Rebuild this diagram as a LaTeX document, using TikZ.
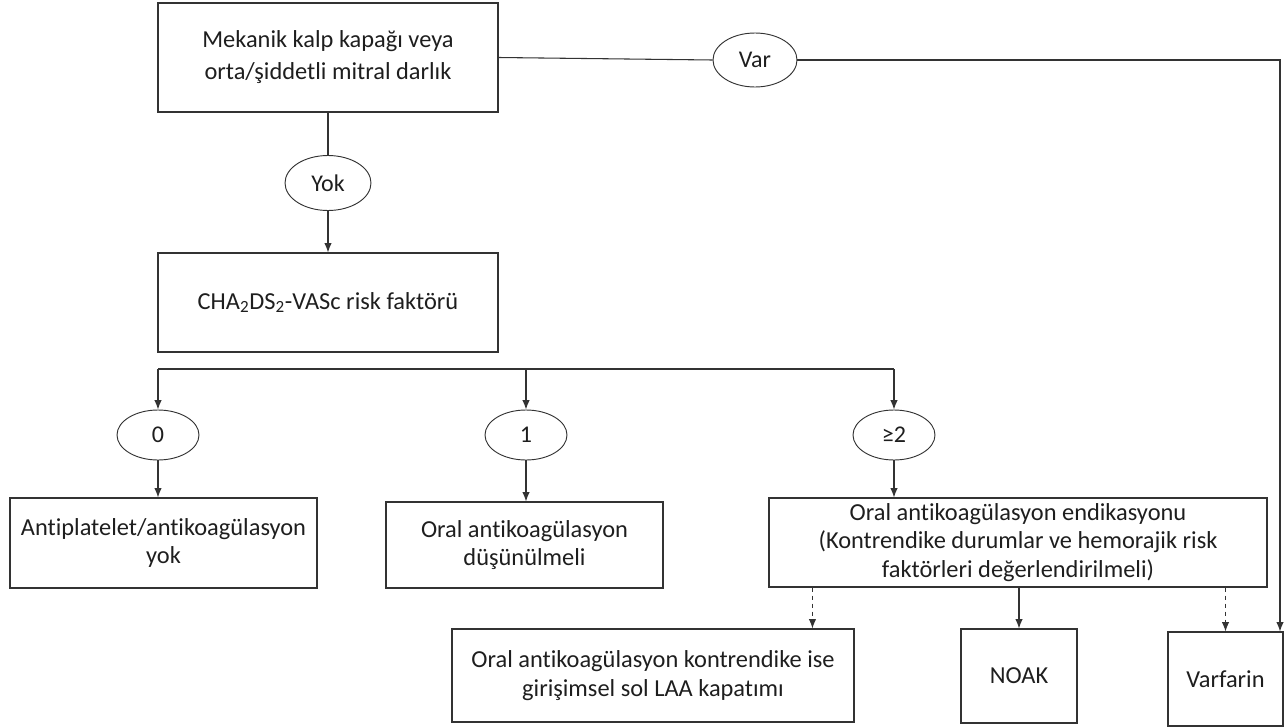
\documentclass[tikz,border=0pt]{standalone}
\usepackage{fontspec}
\setmainfont{Carlito}[Ligatures={NoCommon}]
\usetikzlibrary{arrows.meta,shapes.geometric}
\definecolor{ln}{HTML}{333333}
\definecolor{tx}{HTML}{1E1E1E}
\tikzset{
  box/.style={draw=ln, line width=0.8pt, rectangle, inner sep=0pt, align=center, text=tx, font=\fontsize{18.3}{21.5}\selectfont},
  oval/.style={draw=ln, line width=0.7pt, ellipse, inner sep=0pt, text=tx, font=\fontsize{18}{20}\selectfont},
  conn/.style={draw=ln, line width=0.8pt},
  arr/.style={conn, -{Latex[length=7pt,width=5.5pt]}},
}
\begin{document}
\begin{tikzpicture}[x=0.75pt,y=-0.75pt]
\useasboundingbox (0,0) rectangle (1285,728);
% boxes
\node[box, minimum width=255pt, minimum height=81.75pt, font=\fontsize{18.3}{24}\selectfont] (top) at (328,57.5) {Mekanik kalp kapağı veya\\orta/şiddetli mitral darlık};
\node[box, minimum width=255pt, minimum height=74.25pt] (cha) at (328,302.5) {CHA\textsubscript{2}DS\textsubscript{2}-VASc risk faktörü};
\node[box, minimum width=230.25pt, minimum height=67.5pt] (anti) at (163.5,543) {Antiplatelet/antikoagülasyon\\yok};
\node[box, minimum width=207.75pt, minimum height=64.5pt] (dus) at (524.5,545) {Oral antikoagülasyon\\düşünülmeli};
\node[box, minimum width=373.5pt, minimum height=66.75pt] (big) at (1018,542.5) {Oral antikoagülasyon endikasyonu\\(Kontrendike durumlar ve hemorajik risk\\faktörleri değerlendirilmeli)};
\node[box, minimum width=301.5pt, minimum height=69.75pt] (laa) at (653,675.5) {Oral antikoagülasyon kontrendike ise\\girişimsel sol LAA kapatımı};
\node[box, minimum width=87pt, minimum height=70.5pt] (noak) at (1019,676) {NOAK};
\node[box, minimum width=86.25pt, minimum height=70.5pt] (varf) at (1225.5,679) {Varfarin};
% ovals
\node[oval, minimum width=63pt, minimum height=40.5pt] (var) at (755,60) {Var};
\node[oval, minimum width=64.5pt, minimum height=41.25pt] (yok) at (328,183) {Yok};
\node[oval, minimum width=61.5pt, minimum height=37.5pt] (z) at (158,435) {0};
\node[oval, minimum width=61.5pt, minimum height=37.5pt] (one) at (526,435) {1};
\node[oval, minimum width=61.5pt, minimum height=37.5pt] (ge) at (894,435) {≥2};
% helper coordinates
\coordinate (vc) at (1280,60);
\coordinate (bl) at (158,369);
\coordinate (br) at (894,369);
% connectors
\draw[conn] (top.east) -- (var.west);
\draw[arr] (var.east) -- (vc) -- (vc |- varf.north);
\draw[conn] (top.south) -- (yok.north);
\draw[arr] (yok.south) -- (cha.north);
\draw[conn] (bl) -- (br);
\draw[arr] (bl) -- (z.north);
\draw[arr] (one.north |- bl) -- (one.north);
\draw[arr] (br) -- (ge.north);
\draw[arr] (z.south) -- (z.south |- anti.north);
\draw[arr] (one.south) -- (one.south |- dus.north);
\draw[arr] (ge.south) -- (ge.south |- big.north);
\draw[arr, dashed] ([xshift=33pt]big.south west) -- ([xshift=33pt]big.south west |- laa.north);
\draw[arr] (noak.north |- big.south) -- (noak.north);
\draw[arr, dashed] (varf.north |- big.south) -- (varf.north);
\end{tikzpicture}
\end{document}
